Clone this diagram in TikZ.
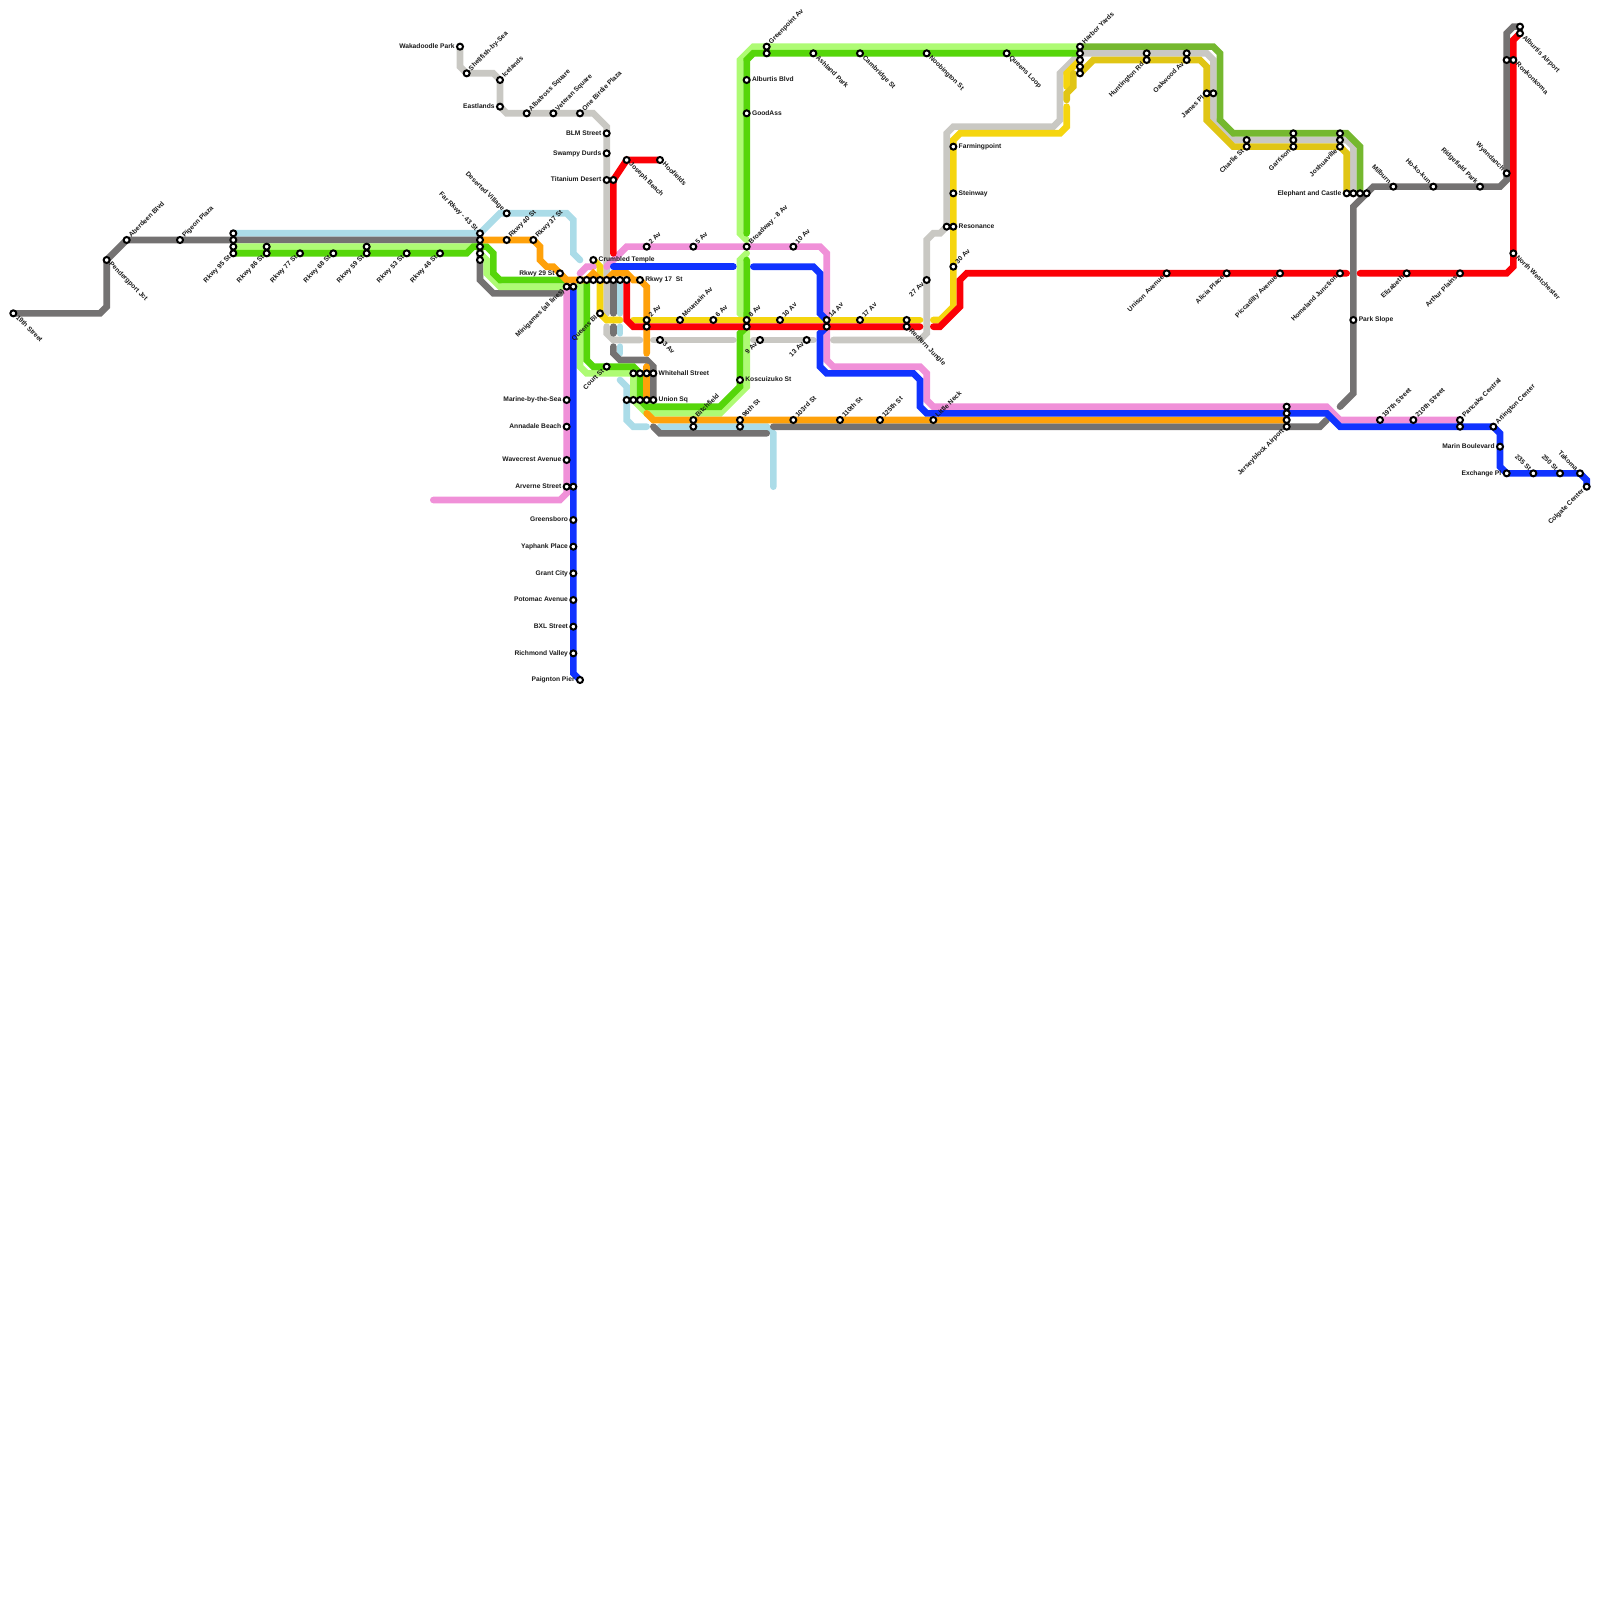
\documentclass[tikz,border=0pt]{standalone}
\usepackage{fontspec}
\setmainfont{Liberation Sans}
\pgfdeclarelayer{lines}
\pgfsetlayers{lines,main}
\definecolor{cgray}{HTML}{747272}
\definecolor{cblue}{HTML}{ABDCE8}
\definecolor{cllime}{HTML}{AEFB74}
\definecolor{cgreen}{HTML}{56D60A}
\definecolor{corange}{HTML}{FFA10A}
\definecolor{cpink}{HTML}{F090D8}
\definecolor{croyal}{HTML}{1033FF}
\definecolor{cred}{HTML}{FB0006}
\definecolor{cyel}{HTML}{F5D50F}
\definecolor{cdyel}{HTML}{E0C515}
\definecolor{csilver}{HTML}{C9C8C3}
\definecolor{colive}{HTML}{75B82F}
\tikzset{
 station/.style={circle,draw=black,fill=white,line width=2pt,minimum size=6pt,inner sep=0pt},
 ln/.style={draw=#1,line width=6.667pt,line cap=round,line join=miter},
 lbl/.style={font=\fontsize{6.67}{7}\selectfont\bfseries,inner sep=0pt,text=black!90,text height=4.9pt,text depth=1.4pt},
 lr/.style={lbl,anchor=west,xshift=5.2pt},
 ll/.style={lbl,anchor=east,xshift=-5.2pt},
 lne/.style={lbl,xshift=3.4pt,yshift=3.4pt,rotate=45,anchor=west},
 lse/.style={lbl,xshift=3.4pt,yshift=-3.4pt,rotate=-45,anchor=west},
 lnw/.style={lbl,xshift=-3.4pt,yshift=3.4pt,rotate=-45,anchor=east},
 lsw/.style={lbl,xshift=-3.4pt,yshift=-3.4pt,rotate=45,anchor=east},
}
\newcommand\sta[2]{\node[station] (s#1-#2) at (#1,#2) {};}
\newcommand\stn[4]{\node[station] (s#1-#2) at (#1,#2) {};\node[#3] (t#1-#2) at (s#1-#2) {#4};}
\newcommand\fe[2]{\coordinate (e#1-#2) at (#1,#2);}
\begin{document}
\begin{tikzpicture}[x=6.66667pt,y=-6.66667pt]
\path[use as bounding box] (0,0) rectangle (240,240);
% stations
\stn{2}{47}{lse}{19th Street}
\stn{16}{39}{lse}{Pendergport Jct}
\stn{19}{36}{lne}{Aberdeen Blvd}
\stn{27}{36}{lne}{Pigeon Plaza}
\sta{35}{35}\sta{35}{36}\sta{35}{37}
\stn{35}{38}{lsw}{Rkwy 95 St}
\sta{40}{37}
\stn{40}{38}{lsw}{Rkwy 86 St}
\stn{45}{38}{lsw}{Rkwy 77 St}
\stn{50}{38}{lsw}{Rkwy 68 St}
\sta{55}{37}
\stn{55}{38}{lsw}{Rkwy 59 St}
\stn{61}{38}{lsw}{Rkwy 53 St}
\stn{66}{38}{lsw}{Rkwy 46 St}
\stn{72}{35}{lnw}{Far Rkwy - 43 St}
\sta{72}{36}\sta{72}{37}\sta{72}{38}\sta{72}{39}
\stn{69}{7}{ll}{Wakadoodle Park}
\stn{70}{11}{lne}{Shellfish-by-Sea}
\stn{75}{12}{lne}{Icelands}
\stn{75}{16}{ll}{Eastlands}
\stn{79}{17}{lne}{Albatross Square}
\stn{83}{17}{lne}{Veteran Square}
\stn{87}{17}{lne}{One Birdie Plaza}
\stn{91}{20}{ll}{BLM Street}
\stn{91}{23}{ll}{Swampy Durds}
\stn{91}{27}{ll}{Titanium Desert}
\sta{92}{27}
\stn{94}{24}{lse}{Joseph Beach}
\stn{99}{24}{lse}{Hoofields}
\stn{76}{32}{lnw}{Deserted Village}
\stn{76}{36}{lne}{Rkwy 40 St}
\stn{80}{36}{lne}{Rkwy 37 St}
\stn{89}{39}{lr}{Crumbled Temple}
\stn{84}{41}{ll}{Rkwy 29 St}
\sta{87}{42}\sta{88}{42}\sta{89}{42}\sta{90}{42}\sta{91}{42}\sta{92}{42}\sta{93}{42}\sta{94}{42}
\stn{96}{42}{lr}{Rkwy 17\ \ St}
\stn{85}{43}{lsw}{Minigames (all lines)}
\sta{86}{43}
\stn{90}{47}{lsw}{Queens Bl}
\stn{97}{37}{lne}{2 Av}
\stn{104}{37}{lne}{5 Av}
\stn{112}{37}{lne}{Broadway - 8 Av}
\stn{119}{37}{lne}{10 Av}
\stn{97}{48}{lne}{2 Av}
\sta{97}{49}
\stn{102}{48}{lne}{Mountain Av}
\stn{107}{48}{lne}{6 Av}
\stn{112}{48}{lne}{8 Av}
\sta{112}{49}
\stn{117}{48}{lne}{10 Av}
\stn{124}{48}{lne}{14 Av}
\sta{124}{49}
\stn{129}{48}{lne}{17 Av}
\sta{136}{48}
\stn{136}{49}{lse}{Redfern Jungle}
\stn{99}{51}{lse}{3 Av}
\stn{114}{51}{lsw}{9 Av}
\stn{121}{51}{lsw}{13 Av}
\stn{91}{55}{lsw}{Court St}
\sta{95}{56}\sta{96}{56}\sta{97}{56}
\stn{98}{56}{lr}{Whitehall Street}
\sta{94}{60}\sta{95}{60}\sta{96}{60}\sta{97}{60}
\stn{98}{60}{lr}{Union Sq}
\stn{111}{57}{lr}{Koscuizuko St}
\stn{104}{63}{lne}{Bitchfield}
\sta{104}{64}
\stn{111}{63}{lne}{96th St}
\sta{111}{64}
\stn{119}{63}{lne}{103rd St}
\stn{126}{63}{lne}{110th St}
\stn{132}{63}{lne}{125th St}
\stn{140}{63}{lne}{Little Neck}
\stn{85}{60}{ll}{Marine-by-the-Sea}
\stn{85}{64}{ll}{Annadale Beach}
\stn{85}{69}{ll}{Wavecrest Avenue}
\stn{85}{73}{ll}{Arverne Street}
\sta{86}{73}
\stn{86}{78}{ll}{Greensboro}
\stn{86}{82}{ll}{Yaphank Place}
\stn{86}{86}{ll}{Grant City}
\stn{86}{90}{ll}{Potomac Avenue}
\stn{86}{94}{ll}{BXL Street}
\stn{86}{98}{ll}{Richmond Valley}
\stn{87}{102}{ll}{Paignton Pier}
\stn{115}{7}{lne}{Greenpoint Av}
\sta{115}{8}
\stn{122}{8}{lse}{Ashland Park}
\stn{129}{8}{lse}{Cambridge St}
\stn{139}{8}{lse}{Noobington St}
\stn{151}{8}{lse}{Queens Loop}
\stn{112}{12}{lr}{Alburtis Blvd}
\stn{112}{17}{lr}{GoodAss}
\stn{162}{7}{lne}{Harbor Yards}
\sta{162}{8}\sta{162}{9}\sta{162}{10}\sta{162}{11}
\stn{143}{22}{lr}{Farmingpoint}
\stn{143}{29}{lr}{Steinway}
\sta{142}{34}
\stn{143}{34}{lr}{Resonance}
\stn{143}{40}{lne}{30 Av}
\stn{139}{42}{lsw}{27 Av}
\sta{172}{8}
\stn{172}{9}{lsw}{Huntington Rd}
\sta{178}{8}
\stn{178}{9}{lsw}{Oakwood Av}
\stn{175}{41}{lsw}{Unison Avenue}
\stn{181}{14}{lsw}{James Pl}
\sta{182}{14}
\sta{187}{21}
\stn{187}{22}{lsw}{Charlie St}
\sta{194}{20}\sta{194}{21}
\stn{194}{22}{lsw}{Garrison}
\sta{201}{20}\sta{201}{21}
\stn{201}{22}{lsw}{Joshuaville}
\stn{202}{29}{ll}{Elephant and Castle}
\sta{203}{29}\sta{204}{29}\sta{205}{29}
\stn{209}{28}{lnw}{Milburn}
\stn{215}{28}{lnw}{Ho-ko-kun}
\stn{222}{28}{lnw}{Ridgefield Park}
\stn{226}{26}{lnw}{Wyandanch}
\sta{228}{4}
\stn{228}{5}{lse}{Alburtis Airport}
\sta{226}{9}
\stn{227}{9}{lse}{Ronkonkoma}
\stn{227}{38}{lse}{North Westchester}
\stn{184}{41}{lsw}{Alicia Place}
\stn{192}{41}{lsw}{Piccadilly Avenue}
\stn{201}{41}{lsw}{Homeland Junction}
\stn{211}{41}{lsw}{Elizabeth}
\stn{219}{41}{lsw}{Arthur Plains}
\stn{203}{48}{lr}{Park Slope}
\sta{193}{61}\sta{193}{62}\sta{193}{63}
\stn{193}{64}{lsw}{Jerseyblock Airport}
\stn{207}{63}{lne}{197th Street}
\stn{212}{63}{lne}{210th Street}
\stn{219}{63}{lne}{Pancake Central}
\sta{219}{64}
\stn{224}{64}{lne}{Arlington Center}
\stn{225}{67}{ll}{Marin Boulevard}
\stn{226}{71}{ll}{Exchange Pl}
\stn{230}{71}{lnw}{235 St}
\stn{234}{71}{lnw}{250 St}
\stn{237}{71}{lnw}{Takoma}
\stn{238}{73}{lsw}{Colgate Center}
% free ends of line pieces
\fe{91}{47}\fe{91}{49}\fe{96}{51}\fe{98}{51}\fe{110}{51}\fe{113}{51}\fe{122}{51}\fe{125}{51}
\fe{92}{47}\fe{92}{49}\fe{92}{50}\fe{92}{52}\fe{98}{64}\fe{115}{65}\fe{116}{64}\fe{199}{63}\fe{201}{61}
\fe{87}{39}\fe{93}{47}\fe{93}{49}\fe{93}{50}\fe{93}{52}\fe{93}{53}\fe{93}{57}\fe{97}{64}\fe{99}{64}\fe{116}{73}
\fe{112}{35}\fe{112}{36}\fe{112}{38}\fe{112}{39}\fe{85}{42}
\fe{160}{13}\fe{160}{15}\fe{161}{11}\fe{160}{16}\fe{93}{48}\fe{95}{48}\fe{138}{48}\fe{140}{48}
\fe{92}{38}\fe{202}{41}\fe{204}{41}\fe{138}{49}\fe{140}{49}
\fe{97}{53}\fe{97}{55}\fe{97}{62}\fe{65}{75}\fe{87}{41}\fe{89}{40}\fe{91}{40}
\fe{92}{40}\fe{110}{40}\fe{113}{40}\fe{162}{9}
\begin{pgfonlayer}{lines}
% silver
\path[ln=csilver] (s69-7.center) -- (69,10) -- (70,11) -- (74,11) -- (75,12) -- (75,16) -- (76,17) -- (89,17) -- (91,19) -- (e91-47);
\path[ln=csilver] (e91-49) -- (91,50) -- (92,51) -- (e96-51);
\path[ln=csilver] (e98-51) -- (e110-51);
\path[ln=csilver] (e113-51) -- (e122-51);
\path[ln=csilver] (e125-51) -- (138,51) -- (139,50) -- (139,36) -- (140,35) -- (141,35) -- (s142-34.center) -- (142,20) -- (143,19) -- (158,19) -- (159,18) -- (159,11) -- (s162-8.center) -- (181,8) -- (182,9) -- (182,18) -- (185,21) -- (202,21) -- (203,22) -- (s203-29.center);
% light blue
\path[ln=cblue] (s35-35.center) -- (s72-35.center) -- (75,32) -- (85,32) -- (86,33) -- (86,38) -- (e87-39);
\path[ln=cblue] (s93-42.center) -- (e93-47);
\path[ln=cblue] (e93-49) -- (e93-50);
\path[ln=cblue] (e93-52) -- (e93-53);
\path[ln=cblue] (e93-57) -- (94,58) -- (94,63) -- (95,64) -- (e97-64);
\path[ln=cblue] (e99-64) -- (115,64) -- (116,65) -- (e116-73);
% dark gray
\path[ln=cgray] (s2-47.center) -- (15,47) -- (16,46) -- (s16-39.center) -- (s19-36.center) -- (s72-36.center) -- (72,42) -- (74,44) -- (84,44) -- (s85-43.center);
\path[ln=cgray] (s92-42.center) -- (e92-47);
\path[ln=cgray] (e92-49) -- (e92-50);
\path[ln=cgray] (e92-52) -- (92,53) -- (93,54) -- (97,54) -- (98,55) -- (s98-60.center);
\path[ln=cgray] (e98-64) -- (99,65) -- (e115-65);
\path[ln=cgray] (e116-64) -- (198,64) -- (e199-63);
\path[ln=cgray] (e201-61) -- (203,59) -- (203,31) -- (206,28) -- (225,28) -- (226,27) -- (226,5) -- (227,4) -- (s228-4.center);
% light lime
\path[ln=cllime] (s35-37.center) -- (s72-37.center) -- (s72-38.center) -- (73,39) -- (73,41) -- (75,43) -- (s85-43.center);
\path[ln=cllime] (s87-42.center) -- (87,55) -- (88,56) -- (s95-56.center) -- (95,60) -- (97,62) -- (108,62) -- (112,58) -- (112,48) -- (111,47) -- (111,39) -- (e112-38);
\path[ln=cllime] (e112-36) -- (111,35) -- (111,9) -- (113,7) -- (s162-7.center);
% green
\path[ln=cgreen] (s35-38.center) -- (70,38) -- (71,37) -- (73,37) -- (74,38) -- (74,41) -- (75,42) -- (e85-42);
\path[ln=cgreen] (s88-42.center) -- (88,54) -- (89,55) -- (95,55) -- (96,56) -- (96,60) -- (97,61) -- (108,61) -- (111,58) -- (111,50) -- (s112-49.center) -- (e112-39);
\path[ln=cgreen] (e112-35) -- (112,9) -- (113,8) -- (s162-8.center);
% olive
\path[ln=colive] (s162-7.center) -- (182,7) -- (183,8) -- (183,18) -- (185,20) -- (202,20) -- (204,22) -- (s204-29.center);
% yellow
\path[ln=cyel] (s89-39.center) -- (90,40) -- (90,47) -- (91,48) -- (e93-48);
\path[ln=cyel] (e95-48) -- (e138-48);
\path[ln=cyel] (e140-48) -- (141,48) -- (143,46) -- (143,21) -- (144,20) -- (159,20) -- (160,19) -- (e160-16);
\path[ln=cyel] (e160-13) -- (160,11) -- (e162-9);
% dark yellow
\path[ln=cdyel] (e161-11) -- (161,13) -- (160,14) -- (e160-15);
\path[ln=cdyel] (s162-11.center) -- (164,9) -- (180,9) -- (181,10) -- (181,18) -- (185,22) -- (201,22) -- (202,23) -- (s202-29.center);
% pink
\path[ln=cpink] (e65-75) -- (84,75) -- (85,74) -- (s85-43.center);
\path[ln=cpink] (e87-41) -- (88,40) -- (e89-40);
\path[ln=cpink] (e91-40) -- (94,37) -- (123,37) -- (124,38) -- (124,54) -- (125,55) -- (138,55) -- (139,56) -- (139,60) -- (140,61) -- (199,61) -- (201,63) -- (s219-63.center);
% orange
\path[ln=corange] (s72-36.center) -- (80,36) -- (81,37) -- (81,39) -- (82,40) -- (83,40) -- (85,42) -- (88,42) -- (89,41) -- (90,42) -- (91,42) -- (92,41) -- (94,41) -- (95,42) -- (96,42) -- (97,43) -- (e97-53);
\path[ln=corange] (e97-55) -- (s97-60.center);
\path[ln=corange] (e97-62) -- (98,63) -- (s193-63.center);
% blue
\path[ln=croyal] (e92-40) -- (e110-40);
\path[ln=croyal] (e113-40) -- (122,40) -- (123,41) -- (123,47) -- (s124-48.center);
\path[ln=croyal] (s124-49.center) -- (123,50) -- (123,55) -- (124,56) -- (137,56) -- (138,57) -- (138,61) -- (139,62) -- (199,62) -- (201,64) -- (s224-64.center) -- (225,65) -- (225,70) -- (s226-71.center) -- (s237-71.center) -- (238,72) -- (s238-73.center);
\path[ln=croyal] (s86-43.center) -- (86,101) -- (s87-102.center);
% red
\path[ln=cred] (e92-38) -- (s92-27.center) -- (s94-24.center) -- (s99-24.center);
\path[ln=cred] (s94-42.center) -- (94,48) -- (95,49) -- (e138-49);
\path[ln=cred] (e140-49) -- (141,49) -- (144,46) -- (144,42) -- (145,41) -- (e202-41);
\path[ln=cred] (e204-41) -- (226,41) -- (227,40) -- (227,6) -- (s228-5.center);
\end{pgfonlayer}
\end{tikzpicture}
\end{document}
